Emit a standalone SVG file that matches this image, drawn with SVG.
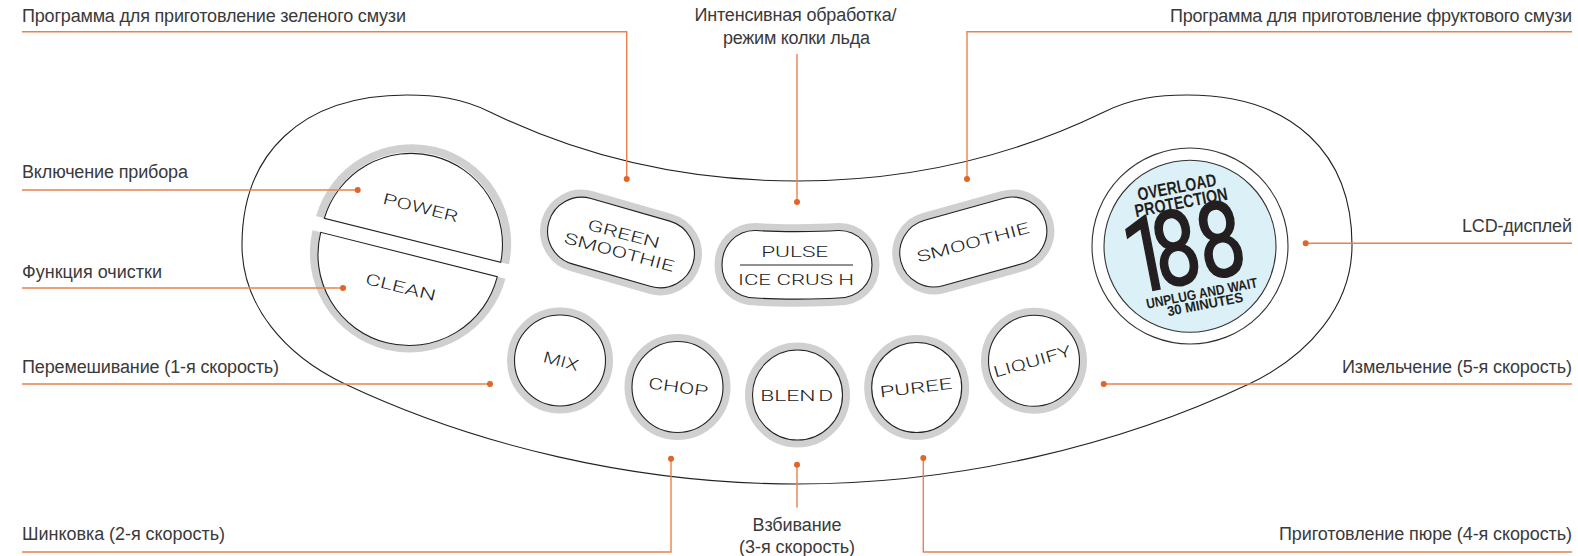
<svg xmlns="http://www.w3.org/2000/svg" width="1578" height="556" viewBox="0 0 1578 556">
<style>
.lbl{font-family:"Liberation Sans",Arial,sans-serif;font-size:18px;fill:#3a3a3a}
.m{text-anchor:middle}.e{text-anchor:end}
.btn{font-family:Roboto,"Liberation Sans",sans-serif;font-weight:300;font-size:15.5px;fill:#222;text-anchor:middle}
.lcd{font-family:"Liberation Sans",sans-serif;font-weight:700;fill:#231f20;text-anchor:middle}
.dig{font-family:Roboto,"Liberation Sans",sans-serif;font-size:105px;fill:#231f20;stroke:#231f20;stroke-width:1.6}
.ring{fill:none;stroke:#d0d0d0;stroke-width:15}
.face{fill:#fff;stroke:#222;stroke-width:1.1}
.arc{fill:none;stroke:#d0d0d0;stroke-width:8}
.ln{fill:none;stroke:#e8814f;stroke-width:1.4}
.dot{fill:#e0652b}
</style>
<rect width="1578" height="556" fill="#fff"/>
<g id="body"><path d="M407 95C435 95 462 98 490 112C560 146 660 181 797 181C934 181 1034 146 1104 112C1132 98 1159 95 1187 95C1294 95 1352 155 1352 245C1352 305 1310 355 1249 384C1120 445 960 484 797 484C634 484 474 445 345 384C284 355 242 305 242 245C242 155 300 95 407 95Z" fill="#fff" stroke="#222" stroke-width="1.1"/></g>
<g id="power"><path class="arc" d="M319.9 217.2A95.5 95.5 0 0 1 505.1 263.4"/><path class="face" d="M324.3 218.3A91 91 0 0 1 500.7 262.3Z"/><text class="btn" textLength="77" lengthAdjust="spacingAndGlyphs" transform="translate(420.7 207.5) rotate(14)" y="5.5">POWER</text></g>
<g id="clean"><path class="arc" d="M316.4 231.2A95.5 95.5 0 0 0 501.6 277.8"/><path class="face" d="M320.7 232.3A91 91 0 0 0 497.3 276.7Z"/><text class="btn" textLength="72" lengthAdjust="spacingAndGlyphs" transform="translate(400.7 287) rotate(14)" y="5.5">CLEAN</text></g>
<g id="green-smoothie"><rect class="ring" x="-75" y="-34" width="150" height="68" rx="34" transform="translate(621 242.5) rotate(16)"/><rect class="face" x="-75" y="-34" width="150" height="68" rx="34" transform="translate(621 242.5) rotate(16)"/><text class="btn" textLength="74" lengthAdjust="spacingAndGlyphs" transform="translate(623.7 233.7) rotate(15)" y="5.5">GREEN</text><text class="btn" textLength="113" lengthAdjust="spacingAndGlyphs" transform="translate(619.3 252) rotate(15)" y="5.5">SMOOTHIE</text></g>
<g id="pulse"><path class="ring" d="M756 230.5C775 232 818 232 838 230.5C858 230 872 246 872 265C872 284 858 298 838 298C818 299.5 775 299.5 756 298C736 298 722 284 722 265C722 246 736 230 756 230.5Z"/><path class="face" d="M756 230.5C775 232 818 232 838 230.5C858 230 872 246 872 265C872 284 858 298 838 298C818 299.5 775 299.5 756 298C736 298 722 284 722 265C722 246 736 230 756 230.5Z"/><text class="btn" x="794.7" y="257.3" textLength="67" lengthAdjust="spacingAndGlyphs">PULSE</text><line x1="740" y1="265" x2="853" y2="265" stroke="#222" stroke-width="1"/><text class="btn" x="796" y="285.3" textLength="116" lengthAdjust="spacingAndGlyphs">ICE CRUS H</text></g>
<g id="smoothie"><rect class="ring" x="-75" y="-34" width="150" height="68" rx="34" transform="translate(973.3 242) rotate(-15.5)"/><rect class="face" x="-75" y="-34" width="150" height="68" rx="34" transform="translate(973.3 242) rotate(-15.5)"/><text class="btn" textLength="116" lengthAdjust="spacingAndGlyphs" transform="translate(973 242.3) rotate(-15)" y="5.5">SMOOTHIE</text></g>
<g id="mix"><circle class="ring" cx="560" cy="360.5" r="45.5"/><circle class="face" cx="560" cy="360.5" r="45.5"/><text class="btn" textLength="36" lengthAdjust="spacingAndGlyphs" transform="translate(561 361) rotate(15)" y="5.5">MIX</text></g>
<g id="chop"><circle class="ring" cx="677.5" cy="387" r="45.5"/><circle class="face" cx="677.5" cy="387" r="45.5"/><text class="btn" textLength="60" lengthAdjust="spacingAndGlyphs" transform="translate(678.3 387) rotate(8)" y="5.5">CHOP</text></g>
<g id="blend"><circle class="ring" cx="797.5" cy="395" r="45"/><circle class="face" cx="797.5" cy="395" r="45"/><text class="btn" x="796.7" y="401.2" textLength="73" lengthAdjust="spacingAndGlyphs" word-spacing="-2">BLEN D</text></g>
<g id="puree"><circle class="ring" cx="916.7" cy="387.5" r="45"/><circle class="face" cx="916.7" cy="387.5" r="45"/><text class="btn" textLength="73" lengthAdjust="spacingAndGlyphs" transform="translate(916 387.7) rotate(-7)" y="5.5">PUREE</text></g>
<g id="liquify"><circle class="ring" cx="1034" cy="360.8" r="45.5"/><circle class="face" cx="1034" cy="360.8" r="45.5"/><text class="btn" textLength="80" lengthAdjust="spacingAndGlyphs" transform="translate(1032.3 361.3) rotate(-16)" y="5.5">LIQUIFY</text></g>
<g id="lcd">
<circle cx="1190" cy="246" r="98" fill="#fff" stroke="#333" stroke-width="1.1"/>
<circle cx="1190" cy="246.3" r="86" fill="#dcf0f8" stroke="#333" stroke-width="1.1"/>
<text class="lcd" font-size="18" textLength="80" lengthAdjust="spacingAndGlyphs" transform="translate(1176.7 186.7) rotate(-11)" y="6.5">OVERLOAD</text>
<text class="lcd" font-size="18" textLength="94" lengthAdjust="spacingAndGlyphs" transform="translate(1181 202) rotate(-11)" y="6.5">PROTECTION</text>
<text class="dig" transform="translate(1191.7 245) rotate(-11) scale(.78 1)" x="-88 -50.4 7.8" y="37">188</text>
<text class="lcd" font-size="14" textLength="113" lengthAdjust="spacingAndGlyphs" transform="translate(1201.7 293) rotate(-11)" y="5">UNPLUG AND WAIT</text>
<text class="lcd" font-size="14" textLength="77" lengthAdjust="spacingAndGlyphs" transform="translate(1205 304) rotate(-11)" y="5">30 MINUTES</text>
</g>
<g id="connectors">
<path class="ln" d="M22 31.7H626.7V179"/><circle class="dot" cx="626.7" cy="179" r="3"/>
<path class="ln" d="M797 54V202"/><circle class="dot" cx="797" cy="202" r="3"/>
<path class="ln" d="M1572 31.7H967V179"/><circle class="dot" cx="967" cy="179" r="3"/>
<path class="ln" d="M22 190H357.7"/><circle class="dot" cx="357.7" cy="190" r="3"/>
<path class="ln" d="M22 288H343"/><circle class="dot" cx="343" cy="288" r="3"/>
<path class="ln" d="M22 384H490"/><circle class="dot" cx="490" cy="384" r="3"/>
<path class="ln" d="M1572 243.3H1305.7"/><circle class="dot" cx="1305.7" cy="243.3" r="3"/>
<path class="ln" d="M1572 384H1103.7"/><circle class="dot" cx="1103.7" cy="384" r="3"/>
<path class="ln" d="M22 552H671V458.7"/><circle class="dot" cx="671" cy="458.7" r="3"/>
<path class="ln" d="M797 507.7V464.7"/><circle class="dot" cx="797" cy="464.7" r="3"/>
<path class="ln" d="M1572 552H923.3V458"/><circle class="dot" cx="923.3" cy="458" r="3"/>
</g>
<g id="labels">
<text class="lbl" x="22" y="21.7" textLength="384">Программа для приготовление зеленого смузи</text>
<text class="lbl m" x="795.5" y="21" textLength="202">Интенсивная обработка/</text>
<text class="lbl m" x="796.5" y="43.5" textLength="147">режим колки льда</text>
<text class="lbl e" x="1572" y="21.7" textLength="402">Программа для приготовление фруктового смузи</text>
<text class="lbl" x="22" y="178" textLength="166">Включение прибора</text>
<text class="lbl" x="22" y="277.7" textLength="140">Функция очистки</text>
<text class="lbl" x="22" y="372.7" textLength="257">Перемешивание (1-я скорость)</text>
<text class="lbl" x="22" y="540" textLength="203">Шинковка (2-я скорость)</text>
<text class="lbl m" x="797" y="530.7" textLength="89">Взбивание</text>
<text class="lbl m" x="797" y="552.7" textLength="116">(3-я скорость)</text>
<text class="lbl e" x="1572" y="231.7" textLength="110">LCD-дисплей</text>
<text class="lbl e" x="1572" y="373.3" textLength="230">Измельчение (5-я скорость)</text>
<text class="lbl e" x="1572" y="540" textLength="293">Приготовление пюре (4-я скорость)</text>
</g>
</svg>
